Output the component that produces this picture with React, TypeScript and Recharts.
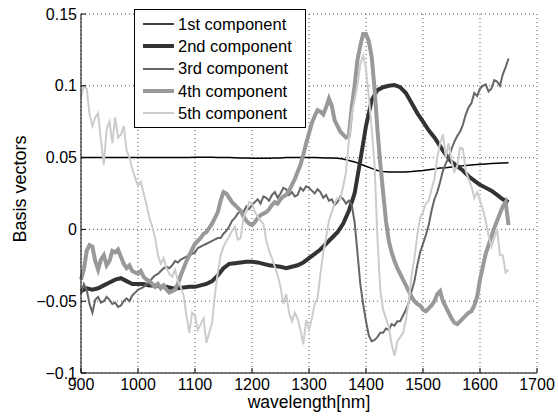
import { LineChart, Line, XAxis, YAxis, CartesianGrid, Label } from "recharts";

const FONT = "'Liberation Sans', Arial, Helvetica, sans-serif";

// 10 nm grid for the smooth components
const wavelength10 = [
  900, 910, 920, 930, 940, 950, 960, 970, 980, 990,
  1000, 1010, 1020, 1030, 1040, 1050, 1060, 1070, 1080, 1090,
  1100, 1110, 1120, 1130, 1140, 1150, 1160, 1170, 1180, 1190,
  1200, 1210, 1220, 1230, 1240, 1250, 1260, 1270, 1280, 1290,
  1300, 1310, 1320, 1330, 1340, 1350, 1360, 1370, 1380, 1390,
  1400, 1410, 1420, 1430, 1440, 1450, 1460, 1470, 1480, 1490,
  1500, 1510, 1520, 1530, 1540, 1550, 1560, 1570, 1580, 1590,
  1600, 1610, 1620, 1630, 1640, 1650,
];

// 5 nm grid for the noisy ones
const wavelength5 = [
  900, 905, 910, 915, 920, 925, 930, 935, 940, 945,
  950, 955, 960, 965, 970, 975, 980, 985, 990, 995,
  1000, 1005, 1010, 1015, 1020, 1025, 1030, 1035, 1040, 1045,
  1050, 1055, 1060, 1065, 1070, 1075, 1080, 1085, 1090, 1095,
  1100, 1105, 1110, 1115, 1120, 1125, 1130, 1135, 1140, 1145,
  1150, 1155, 1160, 1165, 1170, 1175, 1180, 1185, 1190, 1195,
  1200, 1205, 1210, 1215, 1220, 1225, 1230, 1235, 1240, 1245,
  1250, 1255, 1260, 1265, 1270, 1275, 1280, 1285, 1290, 1295,
  1300, 1305, 1310, 1315, 1320, 1325, 1330, 1335, 1340, 1345,
  1350, 1355, 1360, 1365, 1370, 1375, 1380, 1385, 1390, 1395,
  1400, 1405, 1410, 1415, 1420, 1425, 1430, 1435, 1440, 1445,
  1450, 1455, 1460, 1465, 1470, 1475, 1480, 1485, 1490, 1495,
  1500, 1505, 1510, 1515, 1520, 1525, 1530, 1535, 1540, 1545,
  1550, 1555, 1560, 1565, 1570, 1575, 1580, 1585, 1590, 1595,
  1600, 1605, 1610, 1615, 1620, 1625, 1630, 1635, 1640, 1645,
  1650,
];

const comp1 = [
  0.050, 0.050, 0.050, 0.050, 0.050, 0.050, 0.050, 0.050, 0.050, 0.050,
  0.050, 0.050, 0.050, 0.050, 0.050, 0.050, 0.050, 0.050, 0.050, 0.050,
  0.0502, 0.0502, 0.0502, 0.0502, 0.0501, 0.050, 0.050, 0.0499, 0.0498, 0.0497,
  0.0496, 0.0495, 0.0495, 0.0496, 0.0497, 0.0498, 0.050, 0.050, 0.050, 0.050,
  0.050, 0.050, 0.0499, 0.0498, 0.0497, 0.0495, 0.049, 0.048, 0.047, 0.0455,
  0.044, 0.0425, 0.041, 0.0403, 0.040, 0.040, 0.040, 0.040, 0.0403, 0.0407,
  0.041, 0.0415, 0.042, 0.0427, 0.043, 0.0435, 0.044, 0.0443, 0.0447, 0.045,
  0.0453, 0.0456, 0.0459, 0.0461, 0.0463, 0.0465,
];

const comp2 = [
  -0.043, -0.041, -0.042, -0.041, -0.039, -0.037, -0.035, -0.034, -0.036, -0.038,
  -0.038, -0.038, -0.039, -0.039, -0.040, -0.040, -0.041, -0.041, -0.0405, -0.040,
  -0.040, -0.039, -0.038, -0.036, -0.032, -0.027, -0.024, -0.0235, -0.023, -0.0225,
  -0.0225, -0.023, -0.024, -0.025, -0.0255, -0.026, -0.027, -0.026, -0.025, -0.023,
  -0.020, -0.017, -0.014, -0.010, -0.006, -0.002, 0.004, 0.013, 0.025, 0.048,
  0.072, 0.090, 0.097, 0.099, 0.100, 0.1005, 0.099, 0.095, 0.088, 0.081,
  0.075, 0.069, 0.064, 0.058, 0.052, 0.047, 0.044, 0.041, 0.037, 0.034,
  0.031, 0.029, 0.027, 0.024, 0.021, 0.019,
];

const comp3 = [
  -0.045, -0.038, -0.042, -0.052, -0.058, -0.049, -0.047, -0.051, -0.050, -0.047,
  -0.049, -0.052, -0.051, -0.054, -0.053, -0.050, -0.048, -0.050, -0.046, -0.044,
  -0.042, -0.041, -0.040, -0.038, -0.037, -0.034, -0.032, -0.031, -0.029, -0.027,
  -0.026, -0.027, -0.025, -0.022, -0.023, -0.021, -0.020, -0.019, -0.018, -0.017,
  -0.016, -0.013, -0.012, -0.011, -0.010, -0.009, -0.008, -0.007, -0.006, -0.006,
  -0.003, -0.001, 0.002, 0.006, 0.008, 0.011, 0.013, 0.012, 0.016, 0.014,
  0.017, 0.019, 0.021, 0.018, 0.023, 0.022, 0.020, 0.024, 0.026, 0.022,
  0.025, 0.029, 0.028, 0.024, 0.026, 0.023, 0.024, 0.029, 0.027, 0.030,
  0.029, 0.027, 0.025, 0.028, 0.026, 0.022, 0.024, 0.020, 0.021, 0.017,
  0.019, 0.023, 0.021, 0.018, 0.020, 0.017, 0.005, -0.016, -0.038, -0.052,
  -0.064, -0.074, -0.078, -0.077, -0.075, -0.072, -0.072, -0.069, -0.070, -0.066,
  -0.067, -0.064, -0.064, -0.060, -0.056, -0.051, -0.043, -0.036, -0.025, -0.016,
  -0.010, -0.004, 0.003, 0.013, 0.021, 0.026, 0.033, 0.041, 0.046, 0.050,
  0.056, 0.061, 0.065, 0.068, 0.073, 0.080, 0.085, 0.088, 0.095, 0.093,
  0.098, 0.100, 0.101, 0.096, 0.098, 0.104, 0.103, 0.100, 0.108, 0.113,
  0.119,
];

const comp4 = [
  -0.035, -0.028, -0.015, -0.011, -0.012, -0.022, -0.028, -0.021, -0.018, -0.025,
  -0.022, -0.015, -0.016, -0.014, -0.019, -0.024, -0.027, -0.025, -0.029, -0.030,
  -0.031, -0.029, -0.033, -0.035, -0.036, -0.038, -0.040, -0.038, -0.041, -0.039,
  -0.042, -0.044, -0.043, -0.042, -0.038, -0.032, -0.027, -0.022, -0.018, -0.014,
  -0.010, -0.008, -0.006, -0.003, -0.002, 0.001, 0.004, 0.008, 0.012, 0.020,
  0.026, 0.025, 0.022, 0.019, 0.017, 0.015, 0.013, 0.009, 0.006, 0.004,
  0.003, 0.005, 0.008, 0.010, 0.011, 0.012, 0.014, 0.017, 0.019, 0.018,
  0.021, 0.023, 0.024, 0.027, 0.031, 0.035, 0.040, 0.045, 0.052, 0.060,
  0.067, 0.074, 0.079, 0.083, 0.082, 0.080, 0.085, 0.091, 0.086, 0.076,
  0.072, 0.068, 0.066, 0.064, 0.065, 0.085, 0.100, 0.118, 0.128, 0.136,
  0.136, 0.131, 0.120, 0.098, 0.070, 0.046, 0.026, 0.006, -0.008, -0.016,
  -0.022, -0.027, -0.031, -0.035, -0.039, -0.043, -0.047, -0.050, -0.052, -0.053,
  -0.056, -0.057, -0.055, -0.053, -0.050, -0.045, -0.043, -0.050, -0.054, -0.058,
  -0.062, -0.065, -0.066, -0.064, -0.062, -0.060, -0.058, -0.057, -0.053, -0.047,
  -0.035, -0.026, -0.017, -0.011, -0.005, 0.001, 0.006, 0.011, 0.016, 0.019,
  0.003,
];

const comp5 = [
  0.092, 0.100, 0.098, 0.080, 0.072, 0.078, 0.081, 0.062, 0.045, 0.070,
  0.075, 0.060, 0.078, 0.064, 0.066, 0.072, 0.055, 0.050, 0.042, 0.036,
  0.030, 0.033, 0.025, 0.017, 0.008, 0.002, -0.006, -0.018, -0.024, -0.020,
  -0.027, -0.031, -0.033, -0.028, -0.036, -0.040, -0.046, -0.060, -0.072, -0.058,
  -0.060, -0.070, -0.066, -0.062, -0.079, -0.072, -0.065, -0.045, -0.030, -0.018,
  -0.012, -0.008, -0.005, -0.001, 0.002, -0.007, -0.006, 0.008, 0.012, 0.019,
  0.018, 0.012, 0.009, 0.006, 0.004, -0.008, -0.015, -0.020, -0.026, -0.032,
  -0.040, -0.052, -0.045, -0.058, -0.064, -0.058, -0.062, -0.070, -0.080, -0.063,
  -0.070, -0.062, -0.052, -0.048, -0.031, -0.016, -0.006, 0.006, 0.012, 0.018,
  0.022, 0.021, 0.030, 0.040, 0.062, 0.080, 0.090, 0.100, 0.115, 0.121,
  0.112, 0.092, 0.070, 0.045, -0.005, -0.042, -0.056, -0.062, -0.068, -0.080,
  -0.088, -0.078, -0.075, -0.072, -0.063, -0.050, -0.032, -0.020, -0.004, 0.008,
  0.012, 0.018, 0.020, 0.028, 0.035, 0.050, 0.060, 0.066, 0.050, 0.060,
  0.048, 0.040, 0.044, 0.057, 0.056, 0.041, 0.035, 0.030, 0.022, 0.026,
  0.020, 0.014, 0.006, -0.004, -0.012, -0.006, 0.000, -0.018, -0.018, -0.030,
  -0.028,
];

const xTicks = [900, 1000, 1100, 1200, 1300, 1400, 1500, 1600, 1700];
const yTicks = [-0.1, -0.05, 0, 0.05, 0.1, 0.15];

const series = [
  { key: "c1", name: "1st component", x: wavelength10, values: comp1, color: "#000000", width: 1.5 },
  { key: "c2", name: "2nd component", x: wavelength10, values: comp2, color: "#333333", width: 4 },
  { key: "c3", name: "3rd component", x: wavelength5, values: comp3, color: "#666666", width: 2 },
  { key: "c4", name: "4th component", x: wavelength5, values: comp4, color: "#999999", width: 4 },
  { key: "c5", name: "5th component", x: wavelength5, values: comp5, color: "#cccccc", width: 2 },
];

const fmtY = (v: number) => (v < 0 ? "\u2212" + String(Math.abs(v)) : String(v));

function XTick({ x, y, payload }: any) {
  return (
    <g>
      <line x1={x} x2={x} y1={y} y2={y - 5} stroke="#000" />
      <text x={x} y={y + 17} textAnchor="middle" fontSize={16} fontFamily={FONT} fill="#000">
        {payload.value}
      </text>
    </g>
  );
}

function YTick({ x, y, payload }: any) {
  return (
    <g>
      <line x1={x} x2={x + 5} y1={y} y2={y} stroke="#000" />
      <text x={x - 4} y={y} dy="0.35em" textAnchor="end" fontSize={16} fontFamily={FONT} fill="#000">
        {fmtY(payload.value)}
      </text>
    </g>
  );
}

function LegendBox() {
  return (
    <div
      style={{
        position: "absolute", left: 134, top: 9, width: 170, height: 114,
        border: "1px solid #000", background: "#fff", paddingTop: 3,
        fontFamily: FONT, fontSize: 16.5, color: "#000",
      }}
    >
      {series.map(s => (
        <div key={s.key} style={{ height: 22.3, display: "flex", alignItems: "center" }}>
          <svg width={43} height={10} style={{ flex: "none" }}>
            <line x1={8} x2={39} y1={5} y2={5} stroke={s.color} strokeWidth={s.width} />
          </svg>
          <span style={{ whiteSpace: "nowrap" }}>{s.name}</span>
        </div>
      ))}
    </div>
  );
}

export default function App() {
  return (
    <div style={{ position: "absolute", left: 0, top: 0, width: 558, height: 417, background: "#fff" }}>
      <LineChart width={558} height={417} margin={{ top: 14, right: 21, left: 0, bottom: 0 }}>
        <CartesianGrid stroke="#555" strokeDasharray="1 3" />
        <XAxis
          dataKey="wavelength"
          type="number"
          domain={[900, 1700]}
          ticks={xTicks}
          height={44}
          tickSize={0}
          tickMargin={0}
          tick={<XTick />}
          axisLine={{ stroke: "#000" }}
          interval={0}
          allowDuplicatedCategory={false}
        >
          <Label
            content={({ viewBox }: any) => (
              <text x={viewBox.x + viewBox.width / 2} y={viewBox.y + 35} textAnchor="middle" fontSize={17.5} fontFamily={FONT} fill="#000">
                wavelength[nm]
              </text>
            )}
          />
        </XAxis>
        <YAxis
          type="number"
          domain={[-0.1, 0.15]}
          ticks={yTicks}
          width={81}
          tickSize={0}
          tickMargin={0}
          tick={<YTick />}
          axisLine={{ stroke: "#000" }}
          interval={0}
        >
          <Label
            content={() => (
              <text x={26} y={189} transform="rotate(-90 26 189)" textAnchor="middle" fontSize={18} fontFamily={FONT} fill="#000">
                Basis vectors
              </text>
            )}
          />
        </YAxis>
        {series.map(s => (
          <Line
            key={s.key}
            data={s.x.map((w, i) => ({ wavelength: w, value: s.values[i] }))}
            dataKey="value"
            name={s.name}
            type="linear"
            stroke={s.color}
            strokeWidth={s.width}
            dot={false}
            activeDot={false}
            isAnimationActive={false}
          />
        ))}
      </LineChart>
      <LegendBox />
    </div>
  );
}
